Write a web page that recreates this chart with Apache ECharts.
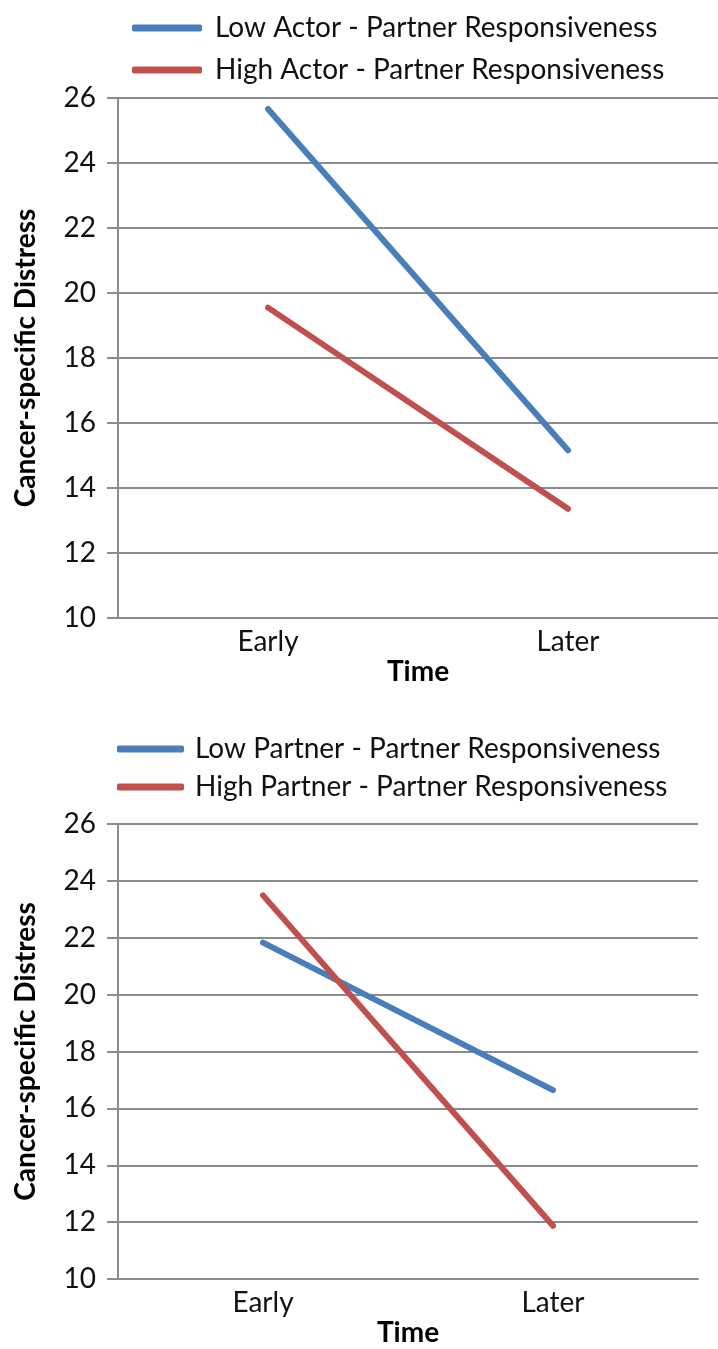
<!DOCTYPE html>
<html>
<head>
<meta charset="utf-8">
<script src="https://cdn.jsdelivr.net/npm/echarts@6/dist/echarts.min.js"></script>
<style>
html,body{margin:0;padding:0;background:#fff;}
#chart{width:718px;height:1349px;}
</style>
</head>
<body>
<div id="chart"></div>
<script>
const categories = ['Early', 'Later'];
const yTicks = [10, 12, 14, 16, 18, 20, 22, 24, 26];
const topLowActor = [25.66, 15.16];
const topHighActor = [19.55, 13.36];
const bottomLowPartner = [21.83, 16.64];
const bottomHighPartner = [23.49, 11.87];
const topNames = ['Low Actor - Partner Responsiveness', 'High Actor - Partner Responsiveness'];
const bottomNames = ['Low Partner - Partner Responsiveness', 'High Partner - Partner Responsiveness'];
const yName = 'Cancer-specific Distress';
const xName = 'Time';

const FONT = 'Lato';
const BLUE = '#4a7ebb';
const RED = '#c0504d';
const GRAY = '#8c8c8c';

function xAxis(gridIndex) {
  return {
    type: 'category', gridIndex, data: categories, boundaryGap: true,
    name: xName, nameLocation: 'middle', nameGap: 40,
    nameTextStyle: {fontFamily: FONT, fontSize: 28, fontWeight: 'bold', color: '#000'},
    axisLine: {show: true, lineStyle: {color: GRAY, width: 2}},
    axisTick: {show: false},
    axisLabel: {fontFamily: FONT, fontSize: 28, color: '#111', margin: 10}
  };
}
function yAxis(gridIndex) {
  return {
    type: 'value', gridIndex, min: yTicks[0], max: yTicks[yTicks.length - 1], interval: 2,
    name: yName, nameLocation: 'middle', nameGap: 78, nameRotate: 90,
    nameTextStyle: {fontFamily: FONT, fontSize: 28, fontWeight: 'bold', color: '#000'},
    axisLine: {show: true, lineStyle: {color: GRAY, width: 2}},
    axisTick: {show: true, length: 11, lineStyle: {color: GRAY, width: 2}},
    axisLabel: {fontFamily: FONT, fontSize: 28, color: '#111', margin: 22},
    splitLine: {show: true, lineStyle: {color: GRAY, width: 2}}
  };
}
function line(name, data, color, idx) {
  return {
    name, type: 'line', data, xAxisIndex: idx, yAxisIndex: idx,
    symbol: 'none', color,
    lineStyle: {color, width: 6, cap: 'round'},
    animation: false
  };
}

const chart = echarts.init(document.getElementById('chart'), null, {renderer: 'canvas'});
chart.setOption({
  backgroundColor: '#fff',
  animation: false,
  grid: [
    {left: 118, top: 98, width: 606, height: 520, containLabel: false},
    {left: 118, top: 824, width: 580, height: 455, containLabel: false}
  ],
  legend: [
    {
      data: topNames, orient: 'vertical', left: 127, top: 8, itemGap: 12,
      itemWidth: 70, itemHeight: 7, icon: 'roundRect',
      textStyle: {fontFamily: FONT, fontSize: 28, color: '#111', lineHeight: 30, padding: [0, 0, 0, 8]}
    },
    {
      data: bottomNames, orient: 'vertical', left: 112, top: 729, itemGap: 8,
      itemWidth: 67, itemHeight: 7, icon: 'roundRect',
      textStyle: {fontFamily: FONT, fontSize: 28, color: '#111', lineHeight: 30, padding: [0, 0, 0, 6]}
    }
  ],
  xAxis: [xAxis(0), xAxis(1)],
  yAxis: [yAxis(0), yAxis(1)],
  series: [
    line(topNames[0], topLowActor, BLUE, 0),
    line(topNames[1], topHighActor, RED, 0),
    line(bottomNames[0], bottomLowPartner, BLUE, 1),
    line(bottomNames[1], bottomHighPartner, RED, 1)
  ]
});
</script>
</body>
</html>
